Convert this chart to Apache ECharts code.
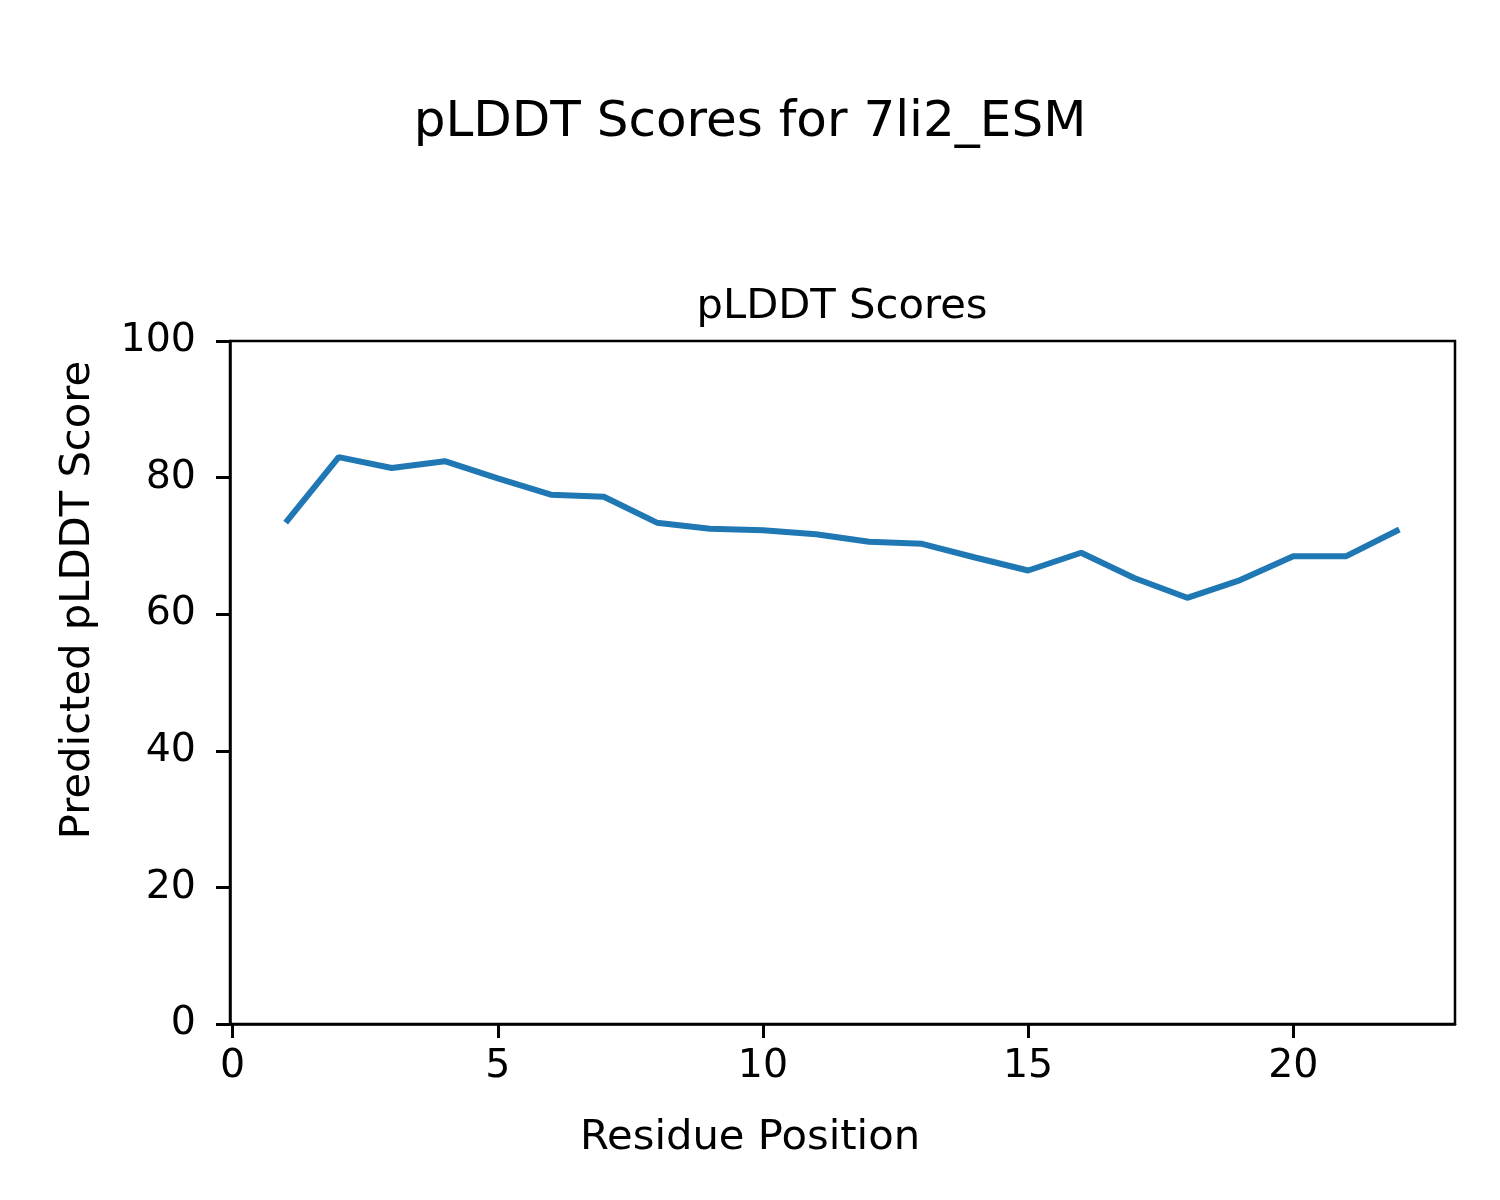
<!DOCTYPE html>
<html>
<head>
<meta charset="utf-8">
<script src="https://cdn.jsdelivr.net/npm/echarts@6/dist/echarts.min.js"></script>
<style>html,body{margin:0;padding:0;background:#fff;}#chart{width:1500px;height:1200px;}</style>
</head>
<body>
<div id="chart"></div>
<script>
const residues = [1,2,3,4,5,6,7,8,9,10,11,12,13,14,15,16,17,18,19,20,21,22];
const plddt = [73.4,83.0,81.4,82.4,79.9,77.5,77.2,73.4,72.5,72.3,71.7,70.6,70.3,68.3,66.4,69.0,65.3,62.4,65.0,68.5,68.5,72.4];
const xTicks = [0,5,10,15,20];
const yTicks = [0,20,40,60,80,100];
const suptitle = 'pLDDT Scores for 7li2_ESM';
const axTitle = 'pLDDT Scores';
const xLabel = 'Residue Position';
const yLabel = 'Predicted pLDDT Score';

const FONT = 'DejaVu Sans';
const chart = echarts.init(document.getElementById('chart'), null, {renderer: 'canvas'});
chart.setOption({
  backgroundColor: '#ffffff',
  animation: false,
  title: [
    {text: suptitle, left: 'center', top: 93, textStyle: {fontFamily: FONT, fontSize: 50, fontWeight: 'normal', color: '#000'}},
    {text: axTitle, left: 837, textAlign: 'center', top: 281, textStyle: {fontFamily: FONT, fontSize: 41.7, fontWeight: 'normal', color: '#000'}}
  ],
  grid: {left: 230, right: 45, top: 341, bottom: 176, show: true, borderColor: '#000', borderWidth: 2.5, backgroundColor: 'transparent'},
  xAxis: {
    type: 'value', min: -0.05, max: 23.05,
    splitLine: {show: false},
    axisLine: {show: true, onZero: false, lineStyle: {color: '#000', width: 2.5}},
    axisTick: {show: true, inside: false, length: 14, lineStyle: {color: '#000', width: 3}, customValues: xTicks},
    axisLabel: {margin: 23, fontFamily: FONT, fontSize: 39.5, color: '#000', customValues: xTicks}
  },
  yAxis: {
    type: 'value', min: 0, max: 100, interval: 20,
    splitLine: {show: false},
    axisLine: {show: true, onZero: false, lineStyle: {color: '#000', width: 2.5}},
    axisTick: {show: true, inside: false, length: 14, lineStyle: {color: '#000', width: 3}, customValues: yTicks},
    axisLabel: {margin: 34, fontFamily: FONT, fontSize: 39.5, color: '#000', customValues: yTicks}
  },
  graphic: [
    {type: 'text', x: 750, y: 1138, style: {text: xLabel, font: '41.7px "DejaVu Sans"', fill: '#000', textAlign: 'center', textVerticalAlign: 'middle'}},
    {type: 'text', x: 78, y: 600, rotation: Math.PI / 2, style: {text: yLabel, font: '41.7px "DejaVu Sans"', fill: '#000', textAlign: 'center', textVerticalAlign: 'middle'}}
  ],
  series: [{
    type: 'line',
    data: residues.map((r, i) => [r, plddt[i]]),
    showSymbol: false,
    lineStyle: {color: '#1f77b4', width: 6},
    itemStyle: {color: '#1f77b4'}
  }]
});
</script>
</body>
</html>
